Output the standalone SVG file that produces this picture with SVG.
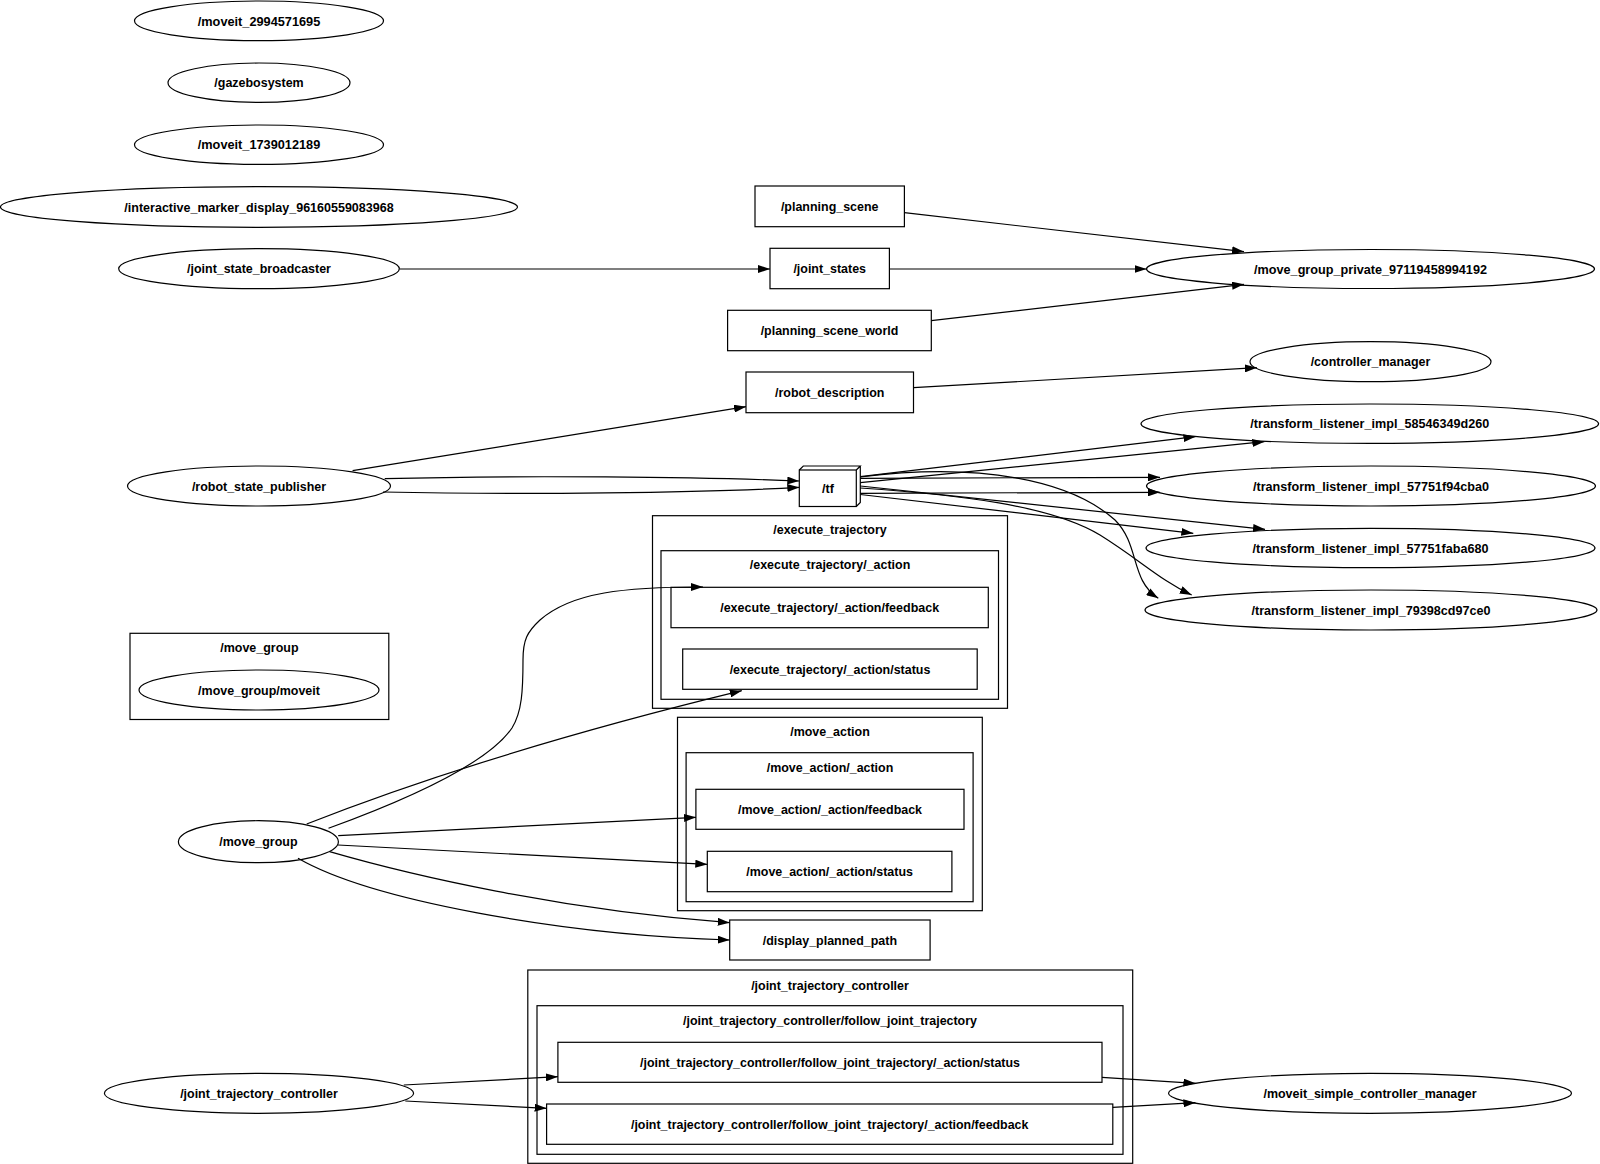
<svg xmlns="http://www.w3.org/2000/svg" width="1600" height="1164" viewBox="0 0 1600 1164">
<style>
  .n ellipse, .n rect, .n path, .c rect { fill: none; stroke: #000; stroke-width: 1.2; }
  text { font-family: "Liberation Sans", Arial, sans-serif; font-weight: bold; font-size: 13.5px; text-anchor: middle; fill: #000; }
  .e path { fill: none; stroke: #000; stroke-width: 1.2; marker-end: url(#ah); }
</style>
<defs>
  <marker id="ah" viewBox="0 0 12 8" refX="12" refY="4" markerWidth="12" markerHeight="8" markerUnits="userSpaceOnUse" orient="auto">
    <path d="M0,0 L12,4 L0,8 z" fill="#000"/>
  </marker>
</defs>
<rect width="1600" height="1164" fill="#fff"/>

<!-- clusters -->
<g id="cluster_execute_trajectory" class="c">
  <rect x="652.5" y="515.7" width="355" height="192.6"/>
  <text x="830" y="534" textLength="113.5" lengthAdjust="spacingAndGlyphs">/execute_trajectory</text>
</g>
<g id="cluster_execute_trajectory_action" class="c">
  <rect x="661" y="550.7" width="337.5" height="148.6"/>
  <text x="830" y="569.2" textLength="160.5" lengthAdjust="spacingAndGlyphs">/execute_trajectory/_action</text>
</g>
<g id="cluster_move_group" class="c">
  <rect x="130" y="633.3" width="258.8" height="86.2"/>
  <text x="259.4" y="652.2" textLength="78.2" lengthAdjust="spacingAndGlyphs">/move_group</text>
</g>
<g id="cluster_move_action" class="c">
  <rect x="677.5" y="717.3" width="304.8" height="193.4"/>
  <text x="830" y="736.2" textLength="79.6" lengthAdjust="spacingAndGlyphs">/move_action</text>
</g>
<g id="cluster_move_action_action" class="c">
  <rect x="686.1" y="752.7" width="287" height="149"/>
  <text x="830" y="771.8" textLength="126.6" lengthAdjust="spacingAndGlyphs">/move_action/_action</text>
</g>
<g id="cluster_joint_trajectory_controller" class="c">
  <rect x="527.8" y="970" width="604.9" height="193.3"/>
  <text x="830" y="989.5" textLength="157.7" lengthAdjust="spacingAndGlyphs">/joint_trajectory_controller</text>
</g>
<g id="cluster_follow_joint_trajectory" class="c">
  <rect x="537" y="1005.7" width="586" height="148.6"/>
  <text x="830" y="1025.2" textLength="294" lengthAdjust="spacingAndGlyphs">/joint_trajectory_controller/follow_joint_trajectory</text>
</g>

<!-- nodes -->
<g id="n_moveit_2994571695" class="n"><ellipse cx="259" cy="20.8" rx="124.5" ry="19.8"/><text x="259" y="25.5" textLength="122.5" lengthAdjust="spacingAndGlyphs">/moveit_2994571695</text></g>
<g id="n_gazebosystem" class="n"><ellipse cx="259" cy="82.7" rx="91" ry="19.7"/><text x="259" y="87.4" textLength="89.3" lengthAdjust="spacingAndGlyphs">/gazebosystem</text></g>
<g id="n_moveit_1739012189" class="n"><ellipse cx="259" cy="144.7" rx="124.5" ry="19.7"/><text x="259" y="149.4" textLength="122.5" lengthAdjust="spacingAndGlyphs">/moveit_1739012189</text></g>
<g id="n_interactive_marker" class="n"><ellipse cx="259" cy="207" rx="258.5" ry="20.3"/><text x="259" y="211.7" textLength="269.3" lengthAdjust="spacingAndGlyphs">/interactive_marker_display_96160559083968</text></g>
<g id="n_joint_state_broadcaster" class="n"><ellipse cx="259" cy="268.7" rx="140.3" ry="20"/><text x="259" y="273.4" textLength="143.9" lengthAdjust="spacingAndGlyphs">/joint_state_broadcaster</text></g>
<g id="n_move_group_private" class="n"><ellipse cx="1370.5" cy="269" rx="224" ry="19.5"/><text x="1370.5" y="273.7" textLength="233" lengthAdjust="spacingAndGlyphs">/move_group_private_97119458994192</text></g>
<g id="n_controller_manager" class="n"><ellipse cx="1370.5" cy="361.7" rx="120.5" ry="20"/><text x="1370.5" y="366.4" textLength="119.7" lengthAdjust="spacingAndGlyphs">/controller_manager</text></g>
<g id="n_robot_state_publisher" class="n"><ellipse cx="259" cy="486" rx="131.5" ry="20"/><text x="259" y="490.7" textLength="134.2" lengthAdjust="spacingAndGlyphs">/robot_state_publisher</text></g>
<g id="n_tl_58546349d260" class="n"><ellipse cx="1369.8" cy="423.7" rx="228.8" ry="19.7"/><text x="1369.8" y="428.4" textLength="239" lengthAdjust="spacingAndGlyphs">/transform_listener_impl_58546349d260</text></g>
<g id="n_tl_57751f94cba0" class="n"><ellipse cx="1371" cy="486" rx="224.5" ry="20"/><text x="1371" y="490.7" textLength="236" lengthAdjust="spacingAndGlyphs">/transform_listener_impl_57751f94cba0</text></g>
<g id="n_tl_57751faba680" class="n"><ellipse cx="1370.5" cy="548" rx="224.5" ry="19.7"/><text x="1370.5" y="552.7" textLength="236" lengthAdjust="spacingAndGlyphs">/transform_listener_impl_57751faba680</text></g>
<g id="n_tl_79398cd97ce0" class="n"><ellipse cx="1371" cy="610" rx="226" ry="20"/><text x="1371" y="614.7" textLength="239" lengthAdjust="spacingAndGlyphs">/transform_listener_impl_79398cd97ce0</text></g>
<g id="n_move_group_moveit" class="n"><ellipse cx="259" cy="690" rx="120" ry="20"/><text x="259" y="694.7" textLength="121.8" lengthAdjust="spacingAndGlyphs">/move_group/moveit</text></g>
<g id="n_move_group" class="n"><ellipse cx="258.4" cy="841.7" rx="80" ry="21"/><text x="258.4" y="846.4" textLength="78.2" lengthAdjust="spacingAndGlyphs">/move_group</text></g>
<g id="n_joint_trajectory_controller" class="n"><ellipse cx="259" cy="1093.3" rx="154.6" ry="20"/><text x="259" y="1098" textLength="157.7" lengthAdjust="spacingAndGlyphs">/joint_trajectory_controller</text></g>
<g id="n_moveit_simple_controller_manager" class="n"><ellipse cx="1370" cy="1093.3" rx="201.5" ry="20"/><text x="1370" y="1098" textLength="213.1" lengthAdjust="spacingAndGlyphs">/moveit_simple_controller_manager</text></g>

<g id="n_planning_scene" class="n"><rect x="755" y="186" width="149.4" height="40.7"/><text x="829.7" y="211" textLength="97.6" lengthAdjust="spacingAndGlyphs">/planning_scene</text></g>
<g id="n_joint_states" class="n"><rect x="770" y="248.3" width="119.4" height="40.4"/><text x="829.7" y="273.2" textLength="72.6" lengthAdjust="spacingAndGlyphs">/joint_states</text></g>
<g id="n_planning_scene_world" class="n"><rect x="727.6" y="310.3" width="203.7" height="40.4"/><text x="829.5" y="335.2" textLength="137.7" lengthAdjust="spacingAndGlyphs">/planning_scene_world</text></g>
<g id="n_robot_description" class="n"><rect x="746" y="372" width="167.5" height="40.7"/><text x="829.7" y="397" textLength="109.3" lengthAdjust="spacingAndGlyphs">/robot_description</text></g>
<g id="n_tf" class="n">
  <rect x="799.3" y="470" width="57" height="36.5"/>
  <path d="M799.3,470 L803.3,466 L860.3,466 L856.3,470 M856.3,506.5 L860.3,502.5 L860.3,466"/>
  <text x="828" y="492.9" textLength="11.8" lengthAdjust="spacingAndGlyphs">/tf</text>
</g>
<g id="n_et_feedback" class="n"><rect x="671" y="587.3" width="317.3" height="40.4"/><text x="829.7" y="612.2" textLength="219" lengthAdjust="spacingAndGlyphs">/execute_trajectory/_action/feedback</text></g>
<g id="n_et_status" class="n"><rect x="682.7" y="649" width="294.5" height="40.3"/><text x="830" y="673.8" textLength="200.7" lengthAdjust="spacingAndGlyphs">/execute_trajectory/_action/status</text></g>
<g id="n_ma_feedback" class="n"><rect x="695.9" y="789.3" width="268.1" height="40"/><text x="830" y="814" textLength="184" lengthAdjust="spacingAndGlyphs">/move_action/_action/feedback</text></g>
<g id="n_ma_status" class="n"><rect x="707.3" y="851.3" width="244.6" height="40.4"/><text x="829.6" y="876.2" textLength="166.7" lengthAdjust="spacingAndGlyphs">/move_action/_action/status</text></g>
<g id="n_display_planned_path" class="n"><rect x="729.7" y="920" width="200.4" height="40"/><text x="829.9" y="944.7" textLength="134.2" lengthAdjust="spacingAndGlyphs">/display_planned_path</text></g>
<g id="n_jtc_status" class="n"><rect x="557.9" y="1042.3" width="544.1" height="40"/><text x="830" y="1067" textLength="380" lengthAdjust="spacingAndGlyphs">/joint_trajectory_controller/follow_joint_trajectory/_action/status</text></g>
<g id="n_jtc_feedback" class="n"><rect x="546.6" y="1104" width="566.2" height="40.3"/><text x="829.7" y="1128.9" textLength="397.5" lengthAdjust="spacingAndGlyphs">/joint_trajectory_controller/follow_joint_trajectory/_action/feedback</text></g>

<!-- connectors -->
<g id="edges" class="e">
  <path d="M904.4,212.7 L1244,251.7"/>
  <path d="M399.5,269 L770,269"/>
  <path d="M889.4,269 L1146.6,269"/>
  <path d="M931.3,320.7 L1244,284.3"/>
  <path d="M913.5,387.7 L1256.8,367.7"/>
  <path d="M352.6,470.7 L746,406.7"/>
  <path d="M384.7,478.7 C520,475 700,477 799.3,481"/>
  <path d="M383,492 C520,495 700,493 799.3,487.3"/>
  <path d="M860.3,476.7 L1195.4,436.7"/>
  <path d="M860.3,482.7 L1264.3,441.7"/>
  <path d="M860.3,478.3 L1160,477.3"/>
  <path d="M860.3,493.3 L1160,492.3"/>
  <path d="M860.3,486 L1265,529.3"/>
  <path d="M860.3,494.5 L1193.3,533.3"/>
  <path d="M860.3,477 C980,462 1070,480 1115,520 C1140,545 1130,580 1158.3,598.3"/>
  <path d="M860.3,488 C960,495 1050,505 1100,535 C1140,560 1160,580 1191.7,595"/>
  <path d="M328.5,828.3 C420,795 490,760 512,728 C522,712 523,690 523,660 C523,640 527,632 540,620 C572,592 625,587 703,587"/>
  <path d="M306.7,824 Q490,752 741.8,690.7"/>
  <path d="M338.2,835.7 L696,817.3"/>
  <path d="M338,845 L707.3,864.3"/>
  <path d="M329.6,851.7 C410,875 560,910 729.7,922.7"/>
  <path d="M298,858.3 C370,900 560,935 729.7,940"/>
  <path d="M403.8,1085 L557.9,1076.7"/>
  <path d="M405.3,1101 L546.6,1108.3"/>
  <path d="M1102,1077.3 L1195.4,1083.3"/>
  <path d="M1112.8,1107.3 L1195.4,1102.7"/>
</g>
</svg>
